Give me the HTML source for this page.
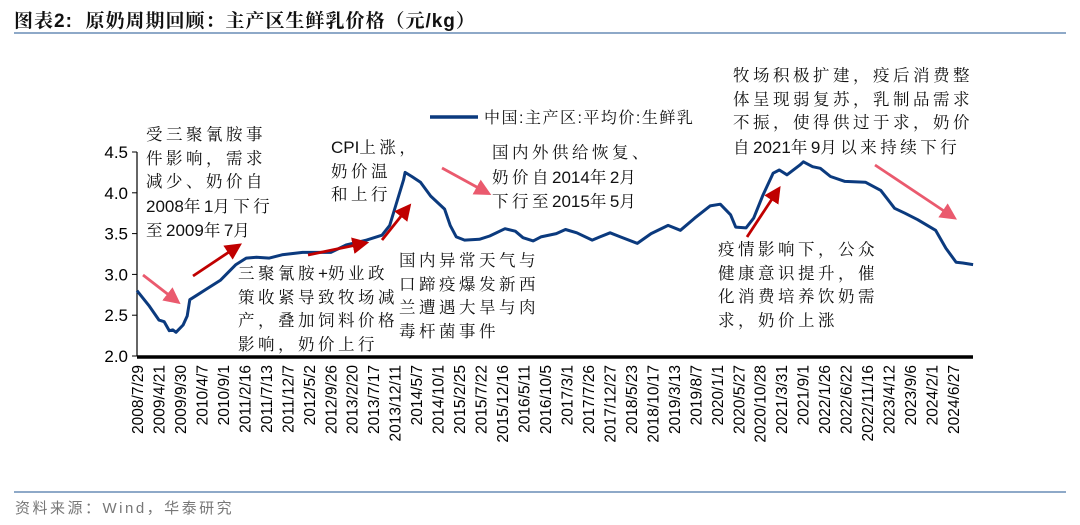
<!DOCTYPE html>
<html><head><meta charset="utf-8"><style>
body{margin:0;background:#fff;width:1080px;height:525px;overflow:hidden;position:relative;font-family:"Liberation Sans","Noto Serif CJK SC",serif;}
.t{position:absolute;white-space:nowrap;}
.ann{position:absolute;font-family:"Liberation Sans","Noto Serif CJK SC",serif;font-size:16.5px;line-height:23.5px;letter-spacing:3.5px;color:#111;white-space:nowrap;}
.ann b{font-weight:normal;letter-spacing:0;font-size:17px;}
</style></head><body>
<div class="t" style="left:14px;top:6px;font-size:19px;font-weight:bold;font-family:'Liberation Sans','Noto Serif CJK SC',serif;color:#111;letter-spacing:1px">图表2:&nbsp;&nbsp;原奶周期回顾：主产区生鲜乳价格（元/kg）</div>
<div style="position:absolute;left:14px;top:32px;width:1052px;height:2px;background:#8ea9c8"></div>
<div style="position:absolute;left:14px;top:491px;width:1052px;height:2px;background:#8ea9c8"></div>
<div class="t" style="left:15px;top:497px;font-size:15px;color:#777;letter-spacing:2.5px;font-family:'Liberation Sans','Noto Sans CJK SC',sans-serif">资料来源：Wind，华泰研究</div>

<svg id="chart" width="1080" height="525" style="position:absolute;left:0;top:0">
<defs>
<marker id="ar" markerWidth="6" markerHeight="6" refX="3" refY="3" orient="auto" markerUnits="strokeWidth"><path d="M0,0 L6,3 L0,6 z" fill="#c00000"/></marker>
<marker id="ap" markerWidth="6" markerHeight="6" refX="3" refY="3" orient="auto" markerUnits="strokeWidth"><path d="M0,0 L6,3 L0,6 z" fill="#ea5a6e"/></marker>
</defs>
</svg>

<div class="ann" style="left:146px;top:124px">受三聚氰胺事<br>件影响，需求<br>减少、奶价自<br><b>2008</b>年<b>1</b>月下行<br>至<b>2009</b>年<b>7</b>月</div>
<div class="ann" style="left:331px;top:136px"><b>CPI</b>上涨，<br>奶价温<br>和上行</div>
<div class="ann" style="left:492px;top:142px">国内外供给恢复、<br>奶价自<b>2014</b>年<b>2</b>月<br>下行至<b>2015</b>年<b>5</b>月</div>
<div class="ann" style="left:733px;top:65px">牧场积极扩建，疫后消费整<br>体呈现弱复苏，乳制品需求<br>不振，使得供过于求，奶价<br>自<b>2021</b>年<b>9</b>月以来持续下行</div>
<div class="ann" style="left:238px;top:262px">三聚氰胺<b>+</b>奶业政<br>策收紧导致牧场减<br>产，叠加饲料价格<br>影响，奶价上行</div>
<div class="ann" style="left:399px;top:250px">国内异常天气与<br>口蹄疫爆发新西<br>兰遭遇大旱与肉<br>毒杆菌事件</div>
<div class="ann" style="left:718px;top:239px">疫情影响下，公众<br>健康意识提升，催<br>化消费培养饮奶需<br>求，奶价上涨</div>

<script>
const years=[2008.57,2008.8,2009.0,2009.1,2009.2,2009.27,2009.33,2009.47,2009.55,2009.6,2009.75,2009.9,2010.2,2010.5,2010.7,2010.9,2011.15,2011.4,2011.8,2012.35,2012.65,2013.05,2013.35,2013.5,2013.62,2013.77,2013.8,2013.93,2014.1,2014.3,2014.57,2014.68,2014.8,2014.96,2015.25,2015.45,2015.75,2015.95,2016.1,2016.3,2016.45,2016.75,2016.93,2017.15,2017.45,2017.6,2017.8,2018.0,2018.33,2018.6,2018.93,2019.17,2019.45,2019.75,2019.95,2020.15,2020.25,2020.45,2020.6,2020.78,2020.98,2021.1,2021.25,2021.5,2021.57,2021.75,2021.9,2022.1,2022.38,2022.78,2023.08,2023.35,2023.55,2023.8,2024.15,2024.35,2024.55,2024.68,2024.88];
const prices=[2.80,2.62,2.44,2.42,2.31,2.32,2.29,2.38,2.49,2.69,2.75,2.81,2.93,3.12,3.20,3.21,3.20,3.24,3.27,3.27,3.36,3.42,3.48,3.60,3.85,4.16,4.25,4.20,4.13,3.96,3.80,3.60,3.46,3.42,3.43,3.47,3.56,3.53,3.45,3.41,3.46,3.50,3.55,3.51,3.42,3.46,3.51,3.46,3.38,3.50,3.60,3.54,3.69,3.84,3.86,3.73,3.58,3.57,3.69,3.97,4.24,4.28,4.22,4.34,4.38,4.32,4.30,4.20,4.14,4.13,4.03,3.81,3.75,3.67,3.54,3.32,3.15,3.14,3.12];
const yTicks=[2.0,2.5,3.0,3.5,4.0,4.5];
const xLabels=["2008/7/29","2009/4/21","2009/9/30","2010/4/7","2010/9/1","2011/2/16","2011/7/13","2011/12/7","2012/5/2","2012/9/26","2013/2/20","2013/7/17","2013/12/11","2014/5/7","2014/10/1","2015/2/25","2015/7/22","2015/12/16","2016/5/11","2016/10/5","2017/3/1","2017/7/26","2017/12/27","2018/5/23","2018/10/17","2019/3/13","2019/8/7","2020/1/1","2020/5/27","2020/10/28","2021/3/31","2021/9/1","2022/1/26","2022/6/22","2022/11/16","2023/4/12","2023/9/6","2024/2/1","2024/6/27"];
const svg=document.getElementById('chart');const NS='http://www.w3.org/2000/svg';
const X0=137,X1=973,Y0=356,Y1=152;
const xs=v=>X0+(v-2008.57)*51.26;
const ys=v=>Y0-(v-2.0)/(4.5-2.0)*(Y0-Y1);
function mk(t,a){const e=document.createElementNS(NS,t);for(const k in a)e.setAttribute(k,a[k]);svg.appendChild(e);return e;}
const ya=mk('line',{x1:X0,y1:Y1,x2:X0,y2:Y0,stroke:'#000','stroke-width':1.2});


yTicks.forEach(v=>{
 const tk=mk('line',{x1:X0-5,y1:ys(v),x2:X0,y2:ys(v),stroke:'#000','stroke-width':1});
 
 
 const t=mk('text',{x:X0-9,y:ys(v)+6,'text-anchor':'end','font-size':17,'font-family':'Liberation Sans, sans-serif',fill:'#000'});
 t.textContent=v.toFixed(1);
 
 
});
const xa=mk('line',{x1:X0,y1:Y0+1,x2:X1,y2:Y0+1,stroke:'#000','stroke-width':3.5});


const n=xLabels.length;
xLabels.forEach((s,i)=>{
 const cx=137+i*(953-137)/(n-1);
 const t=mk('text',{x:0,y:0,'text-anchor':'end','font-size':15.5,'font-family':'Liberation Sans, sans-serif',fill:'#000',transform:`translate(${cx+6},${Y0+9}) rotate(-90)`});
 t.textContent=s;
 
 
});
let d='';years.forEach((y,i)=>{d+=(i?'L':'M')+xs(y).toFixed(1)+','+ys(prices[i]).toFixed(1);});
const p=mk('path',{d:d,fill:'none',stroke:'#0b3a7e','stroke-width':3,'stroke-linejoin':'round'});


const ll=mk('line',{x1:430,y1:117,x2:478,y2:117,stroke:'#0b3a7e','stroke-width':3.5});


const lt=mk('text',{x:484,y:123,'font-size':16,'font-family':'Liberation Sans, Noto Serif CJK SC, serif',fill:'#111','letter-spacing':1.5});
lt.textContent='中国:主产区:平均价:生鲜乳';


const arrows=[[143,275,174,299,'p'],[193,276,235,248,'r'],[308,255,361,244,'r'],[382,240,406,210,'r'],[442,168,484,191,'p'],[747,237,776,193,'r'],[875,165,950,215,'p']];
arrows.forEach(a=>{
 const l=mk('line',{x1:a[0],y1:a[1],x2:a[2],y2:a[3],stroke:a[4]=='r'?'#c00000':'#ea5a6e','stroke-width':2.8,'marker-end':a[4]=='r'?'url(#ar)':'url(#ap)'});
 
 
});
</script>
</body></html>
